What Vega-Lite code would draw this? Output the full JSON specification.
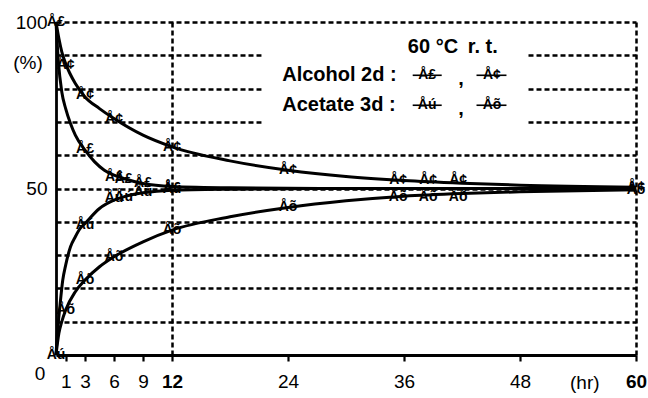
{
  "$schema": "https://vega.github.io/schema/vega-lite/v6.json",
  "width": 580,
  "height": 333,
  "autosize": {"type": "none"},
  "padding": {"left": 56, "top": 22, "right": 12, "bottom": 43},
  "background": "white",
  "config": {"view": {"stroke": null}, "font": "Liberation Sans"},
  "datasets": {
    "box": [{"t": 21.3, "t2": 48.8, "v": 68.5, "v2": 98}],
    "curves": [
      {"s": "A60", "t": 0, "v": 100}, {"s": "A60", "t": 0.25, "v": 88}, {"s": "A60", "t": 0.6, "v": 79}, {"s": "A60", "t": 1, "v": 74},
      {"s": "A60", "t": 1.5, "v": 69.5}, {"s": "A60", "t": 2, "v": 66}, {"s": "A60", "t": 3, "v": 61.5}, {"s": "A60", "t": 4, "v": 58},
      {"s": "A60", "t": 5, "v": 55.5}, {"s": "A60", "t": 6, "v": 54}, {"s": "A60", "t": 7, "v": 53}, {"s": "A60", "t": 9, "v": 51.5},
      {"s": "A60", "t": 12, "v": 50.6}, {"s": "A60", "t": 18, "v": 50.2}, {"s": "A60", "t": 30, "v": 50}, {"s": "A60", "t": 60, "v": 50},
      {"s": "Art", "t": 0, "v": 100}, {"s": "Art", "t": 0.3, "v": 95}, {"s": "Art", "t": 0.6, "v": 91}, {"s": "Art", "t": 1, "v": 87.5},
      {"s": "Art", "t": 2, "v": 81.5}, {"s": "Art", "t": 3, "v": 77.5}, {"s": "Art", "t": 4.5, "v": 74}, {"s": "Art", "t": 6, "v": 71},
      {"s": "Art", "t": 9, "v": 66}, {"s": "Art", "t": 12, "v": 62.5}, {"s": "Art", "t": 18, "v": 58.3}, {"s": "Art", "t": 24, "v": 55.5},
      {"s": "Art", "t": 30, "v": 53.6}, {"s": "Art", "t": 36, "v": 52.4}, {"s": "Art", "t": 42, "v": 51.6}, {"s": "Art", "t": 48, "v": 51},
      {"s": "Art", "t": 60, "v": 50.4},
      {"s": "C60", "t": 0, "v": 0}, {"s": "C60", "t": 0.15, "v": 7}, {"s": "C60", "t": 0.35, "v": 13}, {"s": "C60", "t": 0.7, "v": 22.5},
      {"s": "C60", "t": 1, "v": 27}, {"s": "C60", "t": 1.5, "v": 32.5}, {"s": "C60", "t": 2, "v": 35.5}, {"s": "C60", "t": 2.5, "v": 38},
      {"s": "C60", "t": 3, "v": 39.5}, {"s": "C60", "t": 4.5, "v": 44}, {"s": "C60", "t": 6, "v": 46.5}, {"s": "C60", "t": 7, "v": 47.5},
      {"s": "C60", "t": 9, "v": 48.7}, {"s": "C60", "t": 12, "v": 49.5}, {"s": "C60", "t": 18, "v": 49.8}, {"s": "C60", "t": 30, "v": 50},
      {"s": "C60", "t": 60, "v": 50},
      {"s": "Crt", "t": 0, "v": 0}, {"s": "Crt", "t": 0.3, "v": 6.5}, {"s": "Crt", "t": 0.6, "v": 10}, {"s": "Crt", "t": 1, "v": 13.5},
      {"s": "Crt", "t": 2, "v": 19}, {"s": "Crt", "t": 3, "v": 22.5}, {"s": "Crt", "t": 4.5, "v": 26.5}, {"s": "Crt", "t": 6, "v": 29.5},
      {"s": "Crt", "t": 9, "v": 34}, {"s": "Crt", "t": 12, "v": 37.5}, {"s": "Crt", "t": 18, "v": 41.5}, {"s": "Crt", "t": 24, "v": 44.3},
      {"s": "Crt", "t": 30, "v": 46.3}, {"s": "Crt", "t": 36, "v": 47.7}, {"s": "Crt", "t": 42, "v": 48.5}, {"s": "Crt", "t": 48, "v": 49},
      {"s": "Crt", "t": 60, "v": 49.6}
    ],
    "points": [
      {"m": "Å£", "t": 0, "v": 100}, {"m": "Å£", "t": 3, "v": 62}, {"m": "Å£", "t": 6, "v": 53.5}, {"m": "Å£", "t": 7, "v": 53},
      {"m": "Å£", "t": 9, "v": 51.6}, {"m": "Å£", "t": 12, "v": 50.3},
      {"m": "Å¢", "t": 1, "v": 87}, {"m": "Å¢", "t": 3, "v": 78}, {"m": "Å¢", "t": 6, "v": 71}, {"m": "Å¢", "t": 12, "v": 62.5},
      {"m": "Å¢", "t": 24, "v": 55.5}, {"m": "Å¢", "t": 35.4, "v": 52.5}, {"m": "Å¢", "t": 38.5, "v": 52.5}, {"m": "Å¢", "t": 41.6, "v": 52.5},
      {"m": "Å¢", "t": 60, "v": 50.5},
      {"m": "Åú", "t": 0, "v": 0}, {"m": "Åú", "t": 3, "v": 39}, {"m": "Åú", "t": 6, "v": 47}, {"m": "Åú", "t": 7, "v": 47.5},
      {"m": "Åú", "t": 9, "v": 49}, {"m": "Åú", "t": 12, "v": 49.8},
      {"m": "Åõ", "t": 1, "v": 13.5}, {"m": "Åõ", "t": 3, "v": 22.5}, {"m": "Åõ", "t": 6, "v": 29.5}, {"m": "Åõ", "t": 12, "v": 37.5},
      {"m": "Åõ", "t": 24, "v": 44.3}, {"m": "Åõ", "t": 35.4, "v": 47.5}, {"m": "Åõ", "t": 38.5, "v": 47.5}, {"m": "Åõ", "t": 41.6, "v": 47.5},
      {"m": "Åõ", "t": 60, "v": 49.5}
    ],
    "legendLines": [
      {"t": 36.9, "t2": 39.9, "v": 84}, {"t": 43.5, "t2": 46.6, "v": 84},
      {"t": 36.9, "t2": 39.9, "v": 75}, {"t": 43.5, "t2": 46.6, "v": 75}
    ],
    "legendSym": [
      {"m": "Å£", "t": 38.4, "v": 84}, {"m": "Å¢", "t": 45.1, "v": 84},
      {"m": "Åú", "t": 38.4, "v": 75}, {"m": "Åõ", "t": 45.1, "v": 75}
    ],
    "legendText": [
      {"label": "60 °C", "t": 36.4, "v": 92.5}, {"label": "r. t.", "t": 42.6, "v": 92.5},
      {"label": "Alcohol 2d :", "t": 23.4, "v": 84}, {"label": ",", "t": 41.6, "v": 83},
      {"label": "Acetate 3d :", "t": 23.4, "v": 75}, {"label": ",", "t": 41.6, "v": 74}
    ],
    "notes": [
      {"label": "0", "t": -1.65, "v": -5.7},
      {"label": "(%)", "t": -2.9, "v": 87.7},
      {"label": "(hr)", "t": 54.7, "v": -8.4}
    ]
  },
  "encoding": {
    "x": {
      "field": "t", "type": "quantitative",
      "scale": {"domain": [0, 60], "nice": false, "zero": false},
      "axis": {
        "values": [1, 3, 6, 9, 12, 24, 36, 48, 60], "title": null,
        "domainColor": "black", "domainWidth": 2.8,
        "tickColor": "black", "tickSize": 6, "tickWidth": 2.2,
        "labelFont": "Liberation Sans", "labelFontSize": 19, "labelColor": "black", "labelPadding": 11,
        "labelFlush": false, "labelOverlap": false,
        "labelFontWeight": {"condition": {"test": "datum.value == 12 || datum.value == 60", "value": "bold"}, "value": "normal"},
        "grid": true, "gridColor": "black", "gridWidth": 2.5, "gridDash": [5, 3],
        "gridOpacity": {"condition": {"test": "datum.value == 12 || datum.value == 60", "value": 1}, "value": 0}
      }
    },
    "y": {
      "field": "v", "type": "quantitative",
      "scale": {"domain": [0, 100], "nice": false},
      "axis": {
        "values": [0, 10, 20, 30, 40, 50, 60, 70, 80, 90, 100], "title": null,
        "domainColor": "black", "domainWidth": 2.8, "ticks": false,
        "labelExpr": "datum.value == 50 || datum.value == 100 ? datum.label : ''",
        "labelFont": "Liberation Sans", "labelFontSize": 19, "labelColor": "black", "labelPadding": 9,
        "labelFlush": false, "labelOverlap": false,
        "grid": true, "gridColor": "black", "gridWidth": 2.5, "gridDash": [5, 3],
        "gridOpacity": {"condition": {"test": "datum.value == 0", "value": 0}, "value": 1}
      }
    }
  },
  "layer": [
    {
      "data": {"name": "box"},
      "mark": {"type": "rect", "color": "white"},
      "encoding": {"x2": {"field": "t2"}, "y2": {"field": "v2"}}
    },
    {
      "data": {"name": "curves"},
      "mark": {"type": "line", "color": "black", "strokeWidth": 3, "interpolate": "monotone"},
      "encoding": {"detail": {"field": "s"}}
    },
    {
      "data": {"name": "points"},
      "mark": {"type": "text", "font": "Liberation Sans", "fontWeight": "bold", "fontSize": 14, "color": "black", "align": "center", "baseline": "middle"},
      "encoding": {"text": {"field": "m"}}
    },
    {
      "data": {"name": "legendLines"},
      "mark": {"type": "rule", "color": "black", "strokeWidth": 1.6},
      "encoding": {"x2": {"field": "t2"}}
    },
    {
      "data": {"name": "legendSym"},
      "mark": {"type": "text", "font": "Liberation Sans", "fontWeight": "bold", "fontSize": 14, "color": "black", "align": "center", "baseline": "middle"},
      "encoding": {"text": {"field": "m"}}
    },
    {
      "data": {"name": "legendText"},
      "mark": {"type": "text", "font": "Liberation Sans", "fontWeight": "bold", "fontSize": 20, "color": "black", "align": "left", "baseline": "middle"},
      "encoding": {"text": {"field": "label"}}
    },
    {
      "data": {"name": "notes"},
      "mark": {"type": "text", "font": "Liberation Sans", "fontSize": 19, "color": "black", "align": "center", "baseline": "middle"},
      "encoding": {"text": {"field": "label"}}
    }
  ]
}
